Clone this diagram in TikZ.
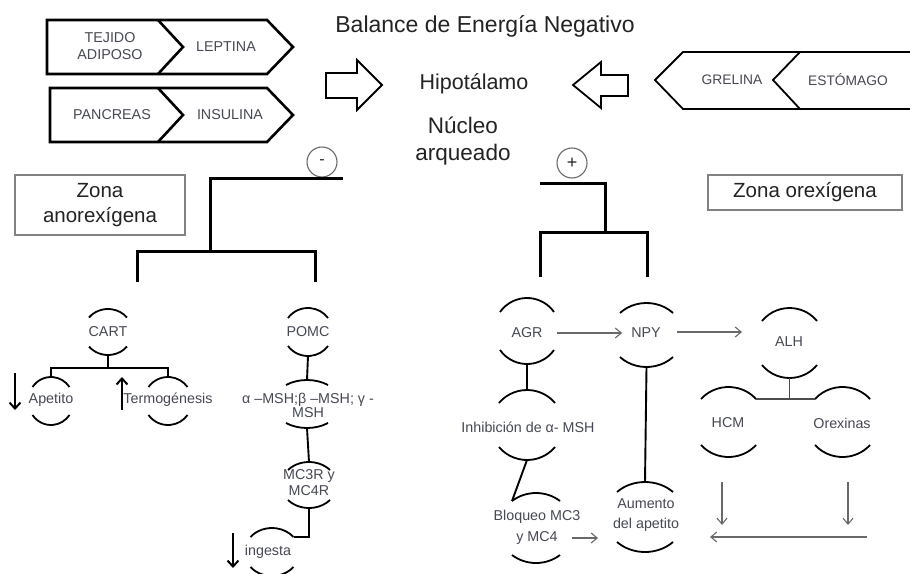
\documentclass[tikz,border=0pt]{standalone}
\usepackage{fontspec}
\setmainfont{Liberation Sans}
\usetikzlibrary{arrows.meta}
\definecolor{txt}{RGB}{35,35,35}
\definecolor{stxt}{RGB}{70,72,84}
\definecolor{thinc}{RGB}{105,105,105}
\definecolor{boxc}{RGB}{130,130,130}
\newcommand{\fs}[2]{\fontsize{#1}{#2}\selectfont}
\newcommand{\bnode}[6]{%
  \pgfmathsetmacro\bnth{asin(#5/#6)}%
  \pgfmathsetmacro\bnrx{#4/cos(\bnth)}%
  \coordinate (#1-n) at (#2,#3-#6);
  \coordinate (#1-s) at (#2,#3+#6);
  \coordinate (#1-nw) at (#2-#4,#3-#5);
  \coordinate (#1-ne) at (#2+#4,#3-#5);
  \coordinate (#1-sw) at (#2-#4,#3+#5);
  \coordinate (#1-se) at (#2+#4,#3+#5);
  \draw[brk] (#1-nw) arc[start angle=180-\bnth, end angle=\bnth, x radius=\bnrx pt, y radius=#6 pt];
  \draw[brk] (#1-sw) arc[start angle=180+\bnth, end angle=360-\bnth, x radius=\bnrx pt, y radius=#6 pt];
}
\begin{document}
\begin{tikzpicture}[x=1pt,y=-1pt,
  brk/.style={line width=1.8pt, black},
  chevline/.style={line width=2.6pt, black, line join=miter},
  chevline2/.style={line width=1.8pt, black, line join=miter},
  chtxt/.style={text=stxt, font=\fs{14.3}{17}, align=center, inner sep=0pt},
  chtxt2/.style={text=stxt, font=\fs{13.8}{16}, align=center, inner sep=0pt},
  bigtxt/.style={text=txt, inner sep=0pt, align=center},
  stx/.style={text=stxt, font=\fs{14.3}{17}, inner sep=0pt, align=center},
  zbox/.style={draw=boxc, line width=1.1pt, text=txt, font=\fs{20.5}{25}, align=center, inner sep=0pt},
  sign/.style={circle, draw=thinc, line width=1.1pt, minimum size=30pt, inner sep=0pt, text=txt},
  tree/.style={line width=3pt, black},
  conn/.style={line width=1.9pt, black},
  tconn/.style={line width=1.4pt, black!70},
  harrow/.style={line width=1.8pt, black, line join=miter},
  thinarrow/.style={line width=1.1pt, draw=thinc, -{Straight Barb[length=6pt,width=10pt,line width=1.1pt]}},
  bigarrow/.style={line width=2pt, black, -{Straight Barb[length=6pt,width=11pt,line width=2pt]}}
]
\useasboundingbox (0,0) rectangle (910,573);
\fill[white] (0,0) rectangle (910,573);

% ---- left chevrons
\draw[chevline] (47,20) -- (267,20) -- (293,47) -- (267,74) -- (47,74) -- cycle;
\draw[chevline] (158,20) -- (183,47) -- (158,74);
\node[chtxt] (tejido) at (110,46) {TEJIDO\\ADIPOSO};
\node[chtxt] (leptina) at (226,47) {LEPTINA};
\draw[chevline] (50,88) -- (267,88) -- (293,115) -- (267,142) -- (50,142) -- cycle;
\draw[chevline] (158,88) -- (183,115) -- (158,142);
\node[chtxt] (pancreas) at (112,115) {PANCREAS};
\node[chtxt] (insulina) at (230,115) {INSULINA};

% ---- right chevrons
\draw[chevline2] (916,52) -- (683,52) -- (655,80) -- (683,109) -- (916,109);
\draw[chevline2] (800,52) -- (773,80) -- (800,109);
\node[chtxt2] (grelina) at (732,80) {GRELINA};
\node[chtxt2] (estomago) at (848,80) {ESTÓMAGO};

% ---- hollow block arrows
\draw[harrow] (326,73) -- (357,73) -- (357,60) -- (382,85) -- (357,110) -- (357,98) -- (326,98) -- cycle;
\draw[harrow] (628,75) -- (601,75) -- (601,62) -- (573,85) -- (601,108) -- (601,96) -- (628,96) -- cycle;

% ---- titles
\node[bigtxt, font=\fs{23}{27}, anchor=base] (title) at (485,32) {Balance de Energía Negativo};
\node[bigtxt, font=\fs{21.5}{25}, anchor=base] (hipo) at (474,89) {Hipotálamo};
\node[bigtxt, font=\fs{22.5}{27}] (nucleo) at (463,141) {Núcleo\\arqueado};

% ---- zone boxes
\node[zbox, minimum width=170pt, minimum height=60pt] (zanor) at (100,205) {Zona\\anorexígena};
\node[zbox, minimum width=194pt, minimum height=35pt] (zorex) at (805,192.5) {Zona orexígena};

% ---- signs
\node[sign, font=\fs{16}{16}] (minus) at (322,162) {-};
\node[sign, font=\fs{18}{18}] (plus) at (572,163) {+};

% ---- left tree
\coordinate (m1) at (343,178);
\coordinate (m2) at (210,178);
\coordinate (m3) at (210,251);
\coordinate (m4) at (137,282);
\coordinate (m5) at (137,251);
\coordinate (m6) at (315,251);
\coordinate (m7) at (315,282);
\draw[tree] (m1) -- (m2) -- (m3);
\draw[tree] (m4) -- (m5) -- (m6) -- (m7);

% ---- right tree
\coordinate (p1) at (540,183);
\coordinate (p2) at (605,183);
\coordinate (p3) at (605,232);
\coordinate (p4) at (540,277);
\coordinate (p5) at (540,232);
\coordinate (p6) at (647,232);
\coordinate (p7) at (647,277);
\draw[tree] (p1) -- (p2) -- (p3);
\draw[tree] (p4) -- (p5) -- (p6) -- (p7);

% ---- left side nodes
\bnode{cartb}{108}{332}{19}{14.5}{23}
\node[stx] (cart) at (108,332) {CART};
\bnode{apetb}{51}{401}{18.5}{14}{24}
\node[stx] (apetito) at (51,400) {Apetito};
\bnode{termob}{168}{401}{19.5}{14}{24}
\node[stx] (termo) at (168,400) {Termogénesis};
\bnode{pomcb}{308}{332}{20}{14}{24}
\node[stx] (pomc) at (308,332) {POMC};
\bnode{alphab}{307}{404}{21}{19}{24}
\node[stx, font=\fs{14.3}{14}] (alpha) at (308,405) {α –MSH;β –MSH; γ -\\MSH};
\bnode{mcb}{309}{485}{21}{15}{23}
\node[stx, font=\fs{14.3}{16}] (mc) at (309,483) {MC3R y\\MC4R};
\bnode{ingb}{272}{552}{21.5}{15}{24}
\node[stx] (ingesta) at (268,552) {ingesta};

\coordinate (cj) at (108,368);
\draw[conn] (cartb-s) -- (cj);
\draw[conn] (apetb-n) |- (cj) -| (termob-n);
\draw[conn] (pomcb-s) -- (alphab-n);
\draw[conn] (alphab-s) -- (mcb-n);
\draw[conn] (mcb-s) |- (ingb-ne);

\coordinate (ad1) at (15,373); \coordinate (ad2) at (15,410);
\draw[bigarrow] (ad1) -- (ad2);
\coordinate (tu1) at (122,410); \coordinate (tu2) at (122,377);
\draw[bigarrow] (tu1) -- (tu2);
\coordinate (id1) at (233,533); \coordinate (id2) at (233,568);
\draw[bigarrow] (id1) -- (id2);

% ---- right side nodes
\bnode{agrb}{527}{331}{27}{19}{33}
\node[stx] (agr) at (527,333) {AGR};
\bnode{npyb}{646.5}{335}{26.5}{22}{32}
\node[stx] (npy) at (646,333) {NPY};
\bnode{alhb}{789.5}{343}{27.5}{22}{35}
\node[stx] (alh) at (789,342) {ALH};
\bnode{hcmb}{728.5}{422}{27.5}{23}{35}
\node[stx] (hcm) at (728,423) {HCM};
\bnode{orexb}{842.5}{422}{27.5}{23}{35}
\node[stx] (orex) at (842,423) {Orexinas};
\bnode{inhb}{527}{425}{28}{22}{35}
\node[stx] (inh) at (528,427) {Inhibición de α- MSH};
\bnode{blqb}{536}{528}{24}{27}{35}
\node[stx, font=\fs{14.3}{21}] (blq) at (537,527) {Bloqueo MC3\\y MC4};
\bnode{aumb}{645}{517}{28}{25}{35}
\node[stx, font=\fs{14.3}{20}] (aum) at (646,515) {Aumento\\del apetito};

\draw[conn] (agrb-s) -- (inhb-n);
\draw[conn] (inhb-s) -- (blqb-nw);
\draw[conn] (npyb-s) -- (aumb-n);
\draw[tconn] (alhb-s) -- (alhb-s |- hcmb-ne);
\draw[tconn] (hcmb-ne) -- (orexb-nw);

\draw[thinarrow] ([xshift=14pt]agr.east) -- ([xshift=-9pt]npy.west);
\coordinate (na1) at (677,332); \coordinate (na2) at (742,332);
\draw[thinarrow] (na1) -- (na2);
\coordinate (hd1) at (722,482); \coordinate (hd2) at (722,525);
\draw[thinarrow] (hd1) -- (hd2);
\coordinate (od1) at (848,482); \coordinate (od2) at (848,525);
\draw[thinarrow] (od1) -- (od2);
\coordinate (bh1) at (867,537); \coordinate (bh2) at (710,537);
\draw[thinarrow] (bh1) -- (bh2);
\coordinate (ba1) at (572,538); \coordinate (ba2) at (598,538);
\draw[thinarrow] (ba1) -- (ba2);
\end{tikzpicture}
\end{document}
